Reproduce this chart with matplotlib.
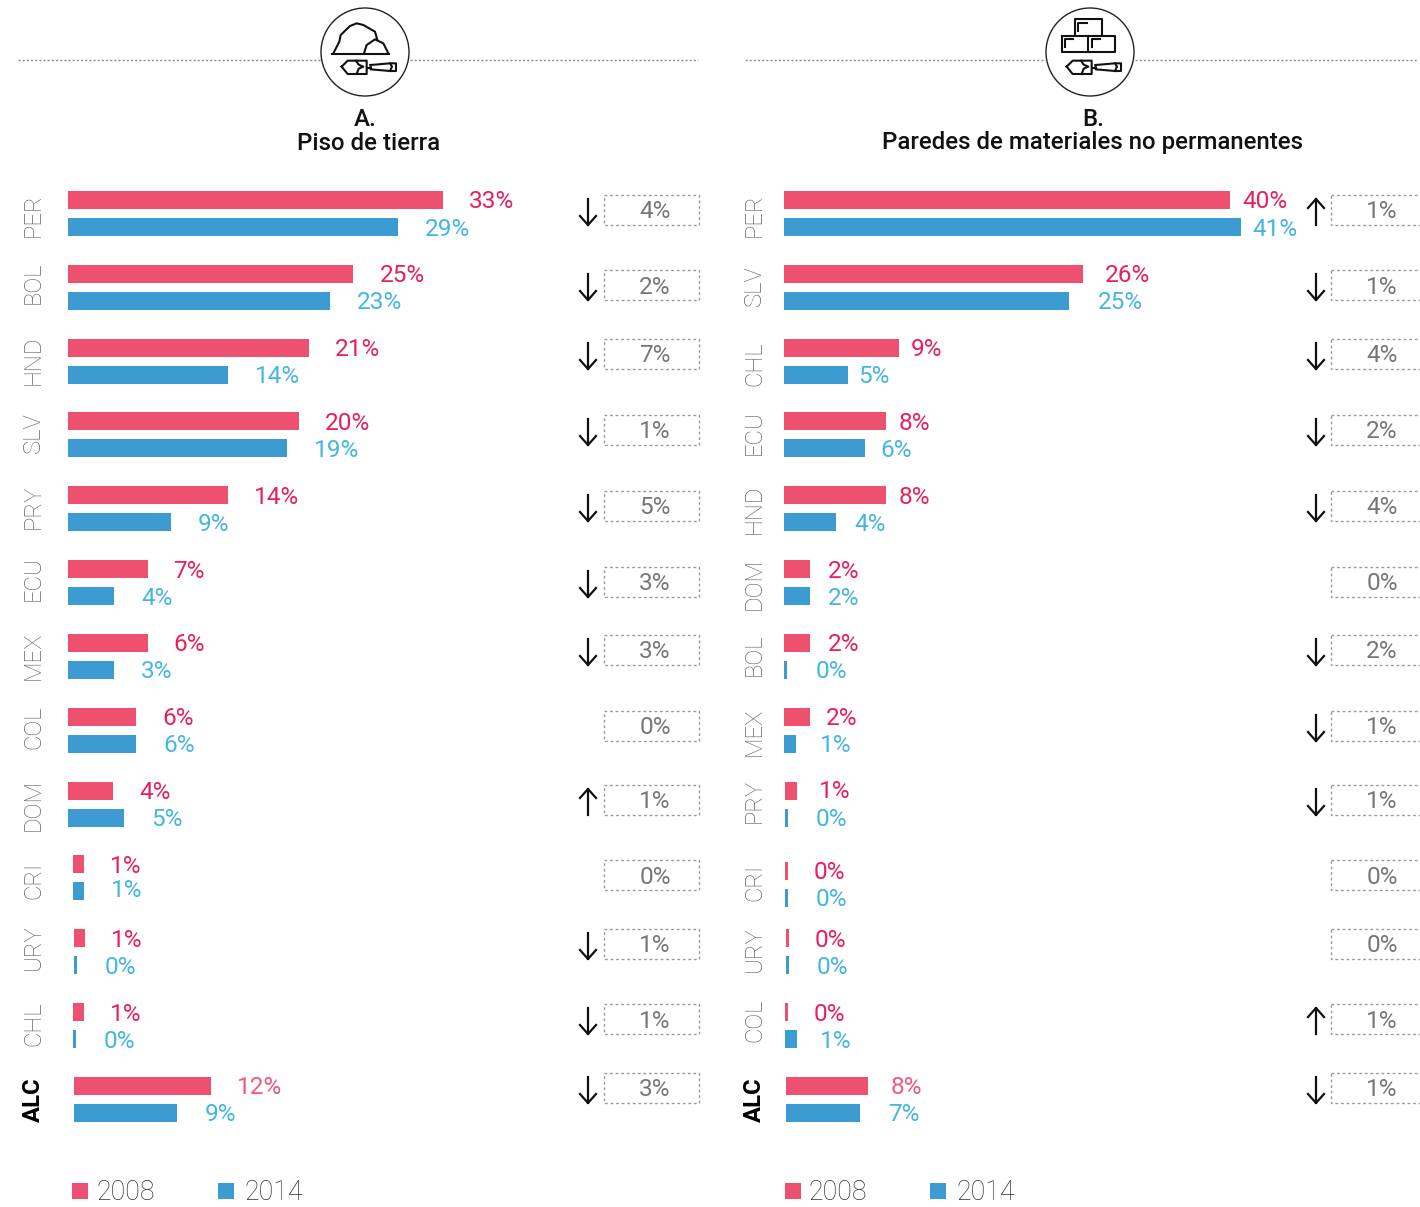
import matplotlib
matplotlib.use('Agg')
import matplotlib.pyplot as plt
from matplotlib.patches import Circle, Rectangle

plt.rcParams['font.family'] = ['Roboto', 'DejaVu Sans']

years = ['2008', '2014']

# panel A - piso de tierra
paises_a = ['PER', 'BOL', 'HND', 'SLV', 'PRY', 'ECU', 'MEX', 'COL', 'DOM', 'CRI', 'URY', 'CHL', 'ALC']
barras_a_2008 = [33, 25.1, 21.2, 20.3, 14.1, 7, 7, 6, 4, 1, 1, 1, 12.05]
barras_a_2014 = [29, 23.05, 14.1, 19.25, 9.05, 4.05, 4.05, 6, 4.95, 1, 0.3, 0.3, 9.1]
etiq_a_2008 = [33, 25, 21, 20, 14, 7, 6, 6, 4, 1, 1, 1, 12]
etiq_a_2014 = [29, 23, 14, 19, 9, 4, 3, 6, 5, 1, 0, 0, 9]
cambio_a = [-4, -2, -7, -1, -5, -3, -3, 0, 1, 0, -1, -1, -3]

# panel B - paredes
paises_b = ['PER', 'SLV', 'CHL', 'ECU', 'HND', 'DOM', 'BOL', 'MEX', 'PRY', 'CRI', 'URY', 'COL', 'ALC']
barras_b_2008 = [40, 26.85, 10.3, 9.15, 9.15, 2.3, 2.3, 2.3, 1.05, 0.3, 0.3, 0.3, 7.35]
barras_b_2014 = [41, 25.6, 5.7, 7.3, 4.7, 2.3, 0.3, 1.1, 0.3, 0.3, 0.3, 1.1, 6.6]
etiq_b_2008 = [40, 26, 9, 8, 8, 2, 2, 2, 1, 0, 0, 0, 8]
etiq_b_2014 = [41, 25, 5, 6, 4, 2, 0, 1, 0, 0, 0, 1, 7]
cambio_b = [1, -1, -4, -2, -4, 0, -2, -1, -1, 0, 0, 1, -1]

ROSA = '#ee5070'
AZUL = '#3c9bd0'
ROSA_TXT = '#e8205a'
AZUL_TXT = '#45b5e2'
W, H = 1420, 1207
PITCH = 73.83
FS = 17.6

# estilo: ajustes en pixeles por fila
inicio_a = [0] * 9 + [5, 6, 5, 6]
inicio_b = [0] * 8 + [1, 1, 2, 1, 2]
gap_a_2008 = [26] * 13
gap_a_2014 = [27] * 13
gap_b_2008 = [12, 21, 12, 13, 13, 18, 18, 16, 22, 25, 25, 25, 23]
gap_b_2014 = [11, 28, 11, 15, 18, 18, 28, 24, 27, 27, 27, 23, 29]
dy_a_2014 = [0] * 9 + [-3] + [0] * 3
dy_b_2008 = [0] * 8 + [-1] + [0] * 4
fila_dy_a = [0] * 13
fila_dy_b = [0] * 9 + [6.5] + [0] * 3
eje_y_a = [215, 283, 360, 433, 507, 579, 656, 727, 805, 880, 947, 1024, 1100]
eje_y_b = [215, 286, 364, 433, 509, 584, 655, 732, 801, 882, 949, 1020, 1100]
caja_y = [210, 285, 354, 430, 506, 582, 650, 726, 800, 875, 944, 1019, 1088]

fig = plt.figure(figsize=(W / 100, H / 100), dpi=100)
over = fig.add_axes([0, 0, 1, 1], zorder=2)
over.set_xlim(0, W)
over.set_ylim(H, 0)
over.axis('off')
over.patch.set_alpha(0)


def panel(x0, x1, px_unit, pad, paises, v08, v14, e08, e14, inicio, gap08, gap14, eje_y, dy08, dy14, fila_dy):
    top, bottom = 150, 1140
    ax = fig.add_axes([x0 / W, 1 - bottom / H, (x1 - x0) / W, (bottom - top) / H])
    ax.set_xlim(0, (x1 - x0) / px_unit)
    ax.set_ylim((bottom - 213.5) / PITCH, (top - 213.5) / PITCH)
    for s in ax.spines.values():
        s.set_visible(False)
    ax.patch.set_alpha(0)
    ax.set_xticks([])
    filas = [i + d / PITCH for i, d in enumerate(fila_dy)]
    left = [p / px_unit for p in inicio]
    off = 13.5 / PITCH
    h = 18 / PITCH
    ax.barh([f - off for f in filas], v08, height=h, left=left, color=ROSA)
    ax.barh([f + off for f in filas], v14, height=h, left=left, color=AZUL)
    for i, f in enumerate(filas):
        c08 = '#f0587c' if paises[i] == 'ALC' else ROSA_TXT
        ax.annotate(f'{e08[i]}%', (left[i] + v08[i], f - off), xytext=(gap08[i] * 0.72, -(2 + dy08[i]) * 0.72),
                    textcoords='offset points', va='center', ha='left', fontsize=FS, color=c08)
        ax.annotate(f'{e14[i]}%', (left[i] + v14[i], f + off), xytext=(gap14[i] * 0.72, -(2 + dy14[i]) * 0.72),
                    textcoords='offset points', va='center', ha='left', fontsize=FS, color=AZUL_TXT)
    ax.set_yticks([(y - 213.5) / PITCH for y in eje_y])
    ax.set_yticklabels(paises, rotation=90, va='center', fontsize=17.2, color='#666666', fontweight='light')
    ax.tick_params(axis='y', length=0, pad=pad * 0.72)
    lab = ax.get_yticklabels()[-1]
    lab.set_fontweight('bold')
    lab.set_color('black')
    return ax


def cajas(cambio, x_box, w_box, x_txt, x_flecha):
    for y, d in zip(caja_y, cambio):
        over.add_patch(Rectangle((x_box, y - 15), w_box, 30, fill=False, ec='#9a9a9a', lw=1,
                                 ls=(0, (2, 2))))
        over.text(x_txt, y + 2, f'{abs(d)}%', ha='center', va='center', fontsize=FS, color='#777777')
        if d == 0:
            continue
        s = 1 if d < 0 else -1  # 1 = hacia abajo
        yc = y + 2
        punta = yc + s * 13
        over.plot([x_flecha, x_flecha], [yc - s * 13, punta], color='#111111', lw=1.6)
        over.plot([x_flecha - 8, x_flecha, x_flecha + 8], [punta - s * 9, punta, punta - s * 9],
                  color='#111111', lw=1.6)


def icono(ox, lineas):
    for pts in lineas:
        over.plot([ox + p[0] / 3 for p in pts], [p[1] / 3 for p in pts], color='#111111', lw=1.5,
                  solid_joinstyle='round')


def paleta(ox):
    icono(ox, [
        [(125, 200), (143, 182), (200, 182), (200, 222), (143, 222), (125, 200)],
        [(168, 182), (176, 194), (190, 200), (176, 206), (170, 222)],
        [(200, 203), (212, 203)],
        [(212, 195), (270, 190), (288, 190), (288, 213), (270, 213), (212, 208), (212, 195)],
        [(270, 190), (276, 200), (270, 213)],
    ])


def cabecera(cx, ox, l0, l1, l2, l3, t1, t2, tx1, tx2):
    over.plot([l0, l1], [60, 60], color='#8c8c8c', lw=1, ls=(0, (1.5, 1.5)))
    over.plot([l2, l3], [60, 60], color='#8c8c8c', lw=1, ls=(0, (1.5, 1.5)))
    over.add_patch(Circle((cx, 52), 44, fill=False, ec='#222222', lw=1))
    paleta(ox)
    over.text(tx1, 119, t1, ha='center', va='center', fontsize=17.3, fontweight='medium', color='#111111')
    over.text(tx2, 143, t2, ha='center', va='center', fontsize=17.3, fontweight='medium', color='#111111')


def leyenda(x1, xt1, x2, xt2):
    for x, xt, col, y in zip((x1, x2), (xt1, xt2), (ROSA, AZUL), years):
        over.add_patch(Rectangle((x, 1183), 16, 16, color=col, lw=0))
        over.text(xt, 1193, y, ha='left', va='center', fontsize=19.3, color='#333333', fontweight='light')


panel(68, 700, 11.37, 23, paises_a, barras_a_2008, barras_a_2014, etiq_a_2008, etiq_a_2014,
      inicio_a, gap_a_2008, gap_a_2014, eje_y_a, [0] * 13, dy_a_2014, fila_dy_a)
panel(784, 1420, 11.15, 18, paises_b, barras_b_2008, barras_b_2014, etiq_b_2008, etiq_b_2014,
      inicio_b, gap_b_2008, gap_b_2014, eje_y_b, dy_b_2008, [0] * 13, fila_dy_b)

cajas(cambio_a, 604, 95, 655, 588)
cajas(cambio_b, 1331, 96, 1382, 1316)

cabecera(365, 300, 18, 321, 410, 698, 'A.', 'Piso de tierra', 365, 369)
cabecera(1090, 1025, 745, 1046, 1135, 1418, 'B.', 'Paredes de materiales no permanentes', 1093, 1093)

# piedras
icono(300, [
    [(95, 162), (268, 162)],
    [(100, 160), (118, 125), (122, 105), (150, 78), (170, 70), (190, 75), (225, 95), (232, 120)],
    [(192, 160), (200, 135), (225, 118), (250, 130), (265, 160)],
])
# bloques
icono(1025, [
    [(150, 105), (150, 58), (230, 58), (230, 105)],
    [(110, 107), (270, 107), (270, 155), (110, 155), (110, 107)],
    [(190, 107), (190, 155)],
    [(160, 92), (160, 68), (185, 68)],
    [(120, 140), (120, 117), (145, 117)],
    [(200, 140), (200, 117), (225, 117)],
])

leyenda(72, 97, 218, 244)
leyenda(785, 809, 930, 956)

fig.savefig('out.png', dpi=100)
